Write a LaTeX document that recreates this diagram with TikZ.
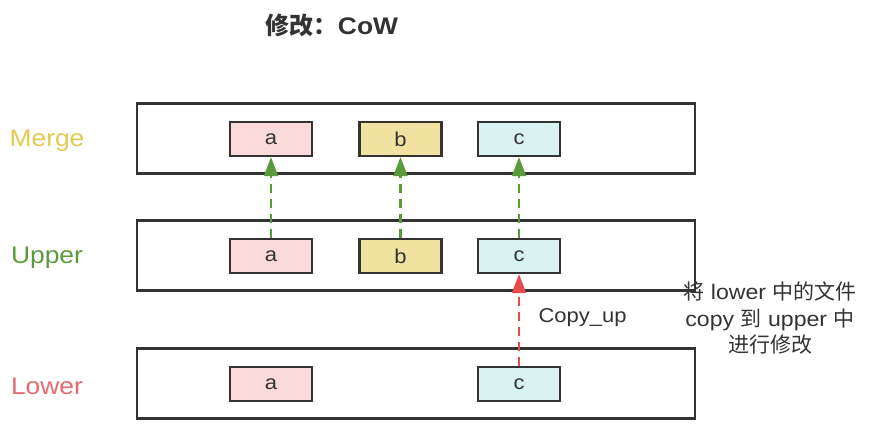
\documentclass[tikz,border=0pt]{standalone}
\usepackage{fontspec}
\setmainfont{Liberation Sans}[FakeStretch=1.1]
\newfontfamily\cjk{Noto Sans CJK SC}
\newfontfamily\cjkb{Noto Sans CJK SC Bold}
\usetikzlibrary{arrows.meta}
\definecolor{framec}{HTML}{333333}
\definecolor{txtc}{HTML}{333333}
\definecolor{mergec}{HTML}{E2C94F}
\definecolor{upperc}{HTML}{5C9A3E}
\definecolor{lowerc}{HTML}{E56B6F}
\definecolor{fa}{HTML}{FADADB}
\definecolor{fb}{HTML}{F1E2A2}
\definecolor{fc}{HTML}{D9F3F2}
\definecolor{greenarr}{HTML}{5B9A3B}
\definecolor{redarr}{HTML}{E84B4B}
\tikzset{
  layerbox/.style={draw=framec, line width=2.2pt, minimum width=558pt, minimum height=70pt, inner sep=0pt},
  filebox/.style={draw=framec, line width=2.2pt, minimum width=82pt, minimum height=34pt, inner sep=0pt, font=\fontsize{20}{20}\selectfont, text=txtc},
  layerlabel/.style={font=\fontsize{24}{24}\selectfont},
  uparrow/.style={draw=greenarr, line width=2.2pt, dash pattern=on 9pt off 6pt, -{Triangle[width=14pt,length=19pt]}},
  copyarrow/.style={draw=redarr, line width=2.2pt, dash pattern=on 9pt off 6pt, -{Triangle[width=14pt,length=19pt]}},
  note/.style={font=\fontsize{21}{26.5}\selectfont, text=txtc, align=center}
}
\begin{document}
\begin{tikzpicture}[x=1pt,y=-1pt]
\useasboundingbox (0,0) rectangle (869,430);
\node[font=\fontsize{24}{24}\selectfont\bfseries, text=txtc] (title) at (332,25) {{\cjkb 修改：}CoW};
% layer boxes
\node[layerbox] (mergebox) at (416,138.5) {};
\node[layerbox] (upperbox) at (416,255.5) {};
\node[layerbox] (lowerbox) at (416,383.5) {};
% labels
\node[layerlabel, text=mergec] (mergelab) at (47,141) {Merge};
\node[layerlabel, text=upperc] (upperlab) at (47,258) {Upper};
\node[layerlabel, text=lowerc] (lowerlab) at (47,386) {Lower};
% files
\node[filebox, fill=fa] (ma) at (271,139) {a};
\node[filebox, fill=fb] (mb) at (400.5,139) {b};
\node[filebox, fill=fc] (mc) at (519,139) {c};
\node[filebox, fill=fa] (ua) at (271,256) {a};
\node[filebox, fill=fb] (ub) at (400.5,256) {b};
\node[filebox, fill=fc] (uc) at (519,256) {c};
\node[filebox, fill=fa] (la) at (271,384) {a};
\node[filebox, fill=fc] (lc) at (519,384) {c};
% arrows
\draw[uparrow] (ua.north) -- (ma.south);
\draw[uparrow] (ub.north) -- (mb.south);
\draw[uparrow] (uc.north) -- (mc.south);
\draw[copyarrow] (lc.north) -- (uc.south);
\node[font=\fontsize{20}{20}\selectfont, text=txtc, anchor=west] (copylab) at (535,318) {Copy\_up};
\node[note] (note) at (770,318) {{\cjk 将} lower {\cjk 中的文件}\\copy {\cjk 到} upper {\cjk 中}\\{\cjk 进行修改}};
\end{tikzpicture}
\end{document}
